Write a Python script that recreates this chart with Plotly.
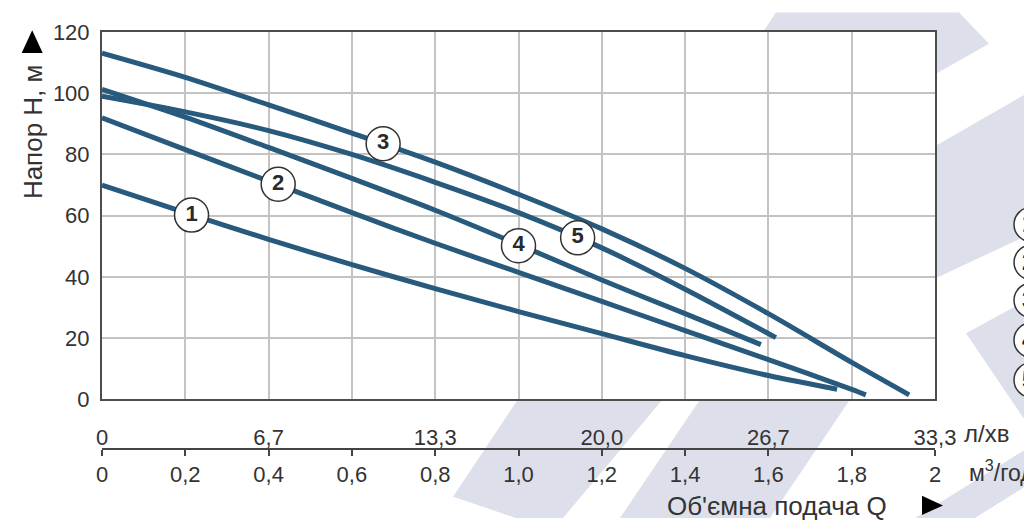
import plotly.graph_objects as go

# ---------------- data ----------------
q1 = [0, 0.2, 0.4, 0.6, 0.8, 1.0, 1.2, 1.4, 1.6, 1.765]
h1 = [70, 61, 52.3, 44, 36.2, 28.7, 21.5, 14.3, 7.8, 3.3]

q2 = [0, 0.2, 0.4, 0.6, 0.8, 1.0, 1.2, 1.4, 1.6, 1.8, 1.834]
h2 = [92, 81.6, 71.3, 61, 51, 41.5, 32, 22.5, 13, 3.3, 1.5]

q3 = [0, 0.2, 0.4, 0.6, 0.8, 1.0, 1.2, 1.4, 1.6, 1.8, 1.938]
h3 = [113.1, 105.2, 96.2, 87, 77.5, 67, 55.7, 42.8, 28, 12.1, 1.5]

q4 = [0, 0.2, 0.4, 0.6, 0.8, 1.0, 1.2, 1.4, 1.582]
h4 = [101.3, 92.2, 82.3, 72.2, 61.8, 50.6, 39, 28, 17.9]

q5 = [0, 0.2, 0.4, 0.6, 0.8, 1.0, 1.2, 1.4, 1.618]
h5 = [99, 93.9, 87.8, 80, 70.9, 61, 49.5, 36, 20.2]

curve_q = [q1, q2, q3, q4, q5]
curve_h = [h1, h2, h3, h4, h5]

label_text = ["1", "2", "3", "4", "5"]
label_q = [0.215, 0.423, 0.675, 1.0, 1.142]
label_h = [60.2, 70.3, 83.5, 50.2, 52.8]

y_ticks = [0, 20, 40, 60, 80, 100, 120]
x_ticks = [0, 0.2, 0.4, 0.6, 0.8, 1.0, 1.2, 1.4, 1.6, 1.8, 2.0]
x_ticktext = ["0", "0,2", "0,4", "0,6", "0,8", "1,0", "1,2", "1,4", "1,6", "1,8", "2"]
lpm_vals = [0, 0.4, 0.8, 1.2, 1.6, 2.0]
lpm_text = ["0", "6,7", "13,3", "20,0", "26,7", "33,3"]

# ---------------- layout geometry (page pixels) ----------------
OFF = 8                      # page body margin
W, H = 1032 - OFF, 520 - OFF
PL, PR, PT, PB = 102, 935, 20, 398
AXB = 449  # secondary axis line
FONT = "Arial, Liberation Sans, Helvetica, sans-serif"
TXT = "#333333"
LINE = "#285a7d"
DECOR = "#dde0ea"

def px(x):
    return (x - PL) / (PR - PL)

def py(y):
    return (AXB - y) / (AXB - PT)

ydom0 = py(PB)

def poly(pts):
    d = "M " + " L ".join(f"{px(x):.5f},{py(y):.5f}" for x, y in pts) + " Z"
    return dict(type="path", xref="paper", yref="paper", path=d,
                fillcolor=DECOR, line=dict(width=0), layer="below")

decor_polys = [
    [(776, 0), (959, 0), (989, 32), (936, 63), (563, 520), (516, 520), (453, 498)],
    [(1032, 80), (1032, 227), (880, 300), (880, 170)],
    [(966, 330), (1032, 293), (1032, 430)],
    [(700, 398), (850, 398), (770, 520), (620, 520)],
    [(1040, 440), (1040, 478), (975, 520), (915, 520)],
]

shapes = [poly(p) for p in decor_polys]
shapes.append(dict(type="rect", xref="paper", yref="paper", x0=0, x1=1, y0=ydom0, y1=1,
                   fillcolor="white", line=dict(width=0), layer="below"))
shapes.append(dict(type="path", xref="paper", yref="paper",
                   path=f"M {px(21.7)},{py(41.7)} L {px(42.7)},{py(41.7)} L {px(32.2)},{py(18.3)} Z",
                   fillcolor="black", line=dict(width=0)))
shapes.append(dict(type="path", xref="paper", yref="paper",
                   path=f"M {px(922)},{py(497)} L {px(922)},{py(517)} L {px(943)},{py(507)} Z",
                   fillcolor="black", line=dict(width=0)))

leg_y = [218, 257, 296, 337, 378]
annotations = []
for t, yy in zip(label_text, leg_y):
    shapes.append(dict(type="circle", xref="paper", yref="paper",
                       x0=px(1014), x1=px(1050), y0=py(yy + 18), y1=py(yy - 18),
                       fillcolor="white", line=dict(color="#333333", width=1.5)))
    annotations.append(dict(xref="paper", yref="paper", x=px(1020), y=py(yy), text=t,
                            showarrow=False, xanchor="left", yanchor="middle",
                            font=dict(family=FONT, size=23, color="#222222", weight="bold")))

fig = go.Figure()
for q, h in zip(curve_q, curve_h):
    fig.add_trace(go.Scatter(x=q, y=h, mode="lines",
                             line=dict(color=LINE, width=5, shape="spline", smoothing=0.8),
                             showlegend=False, hoverinfo="skip"))

fig.add_trace(go.Scatter(x=label_q, y=label_h, mode="markers+text", text=label_text,
                         textposition="middle center",
                         textfont=dict(family=FONT, size=22, color="#2a2a2a", weight="bold"),
                         marker=dict(symbol="circle", size=34, color="white",
                                     line=dict(color="#333333", width=1.5)),
                         showlegend=False, hoverinfo="skip"))

fig.add_trace(go.Scatter(x=[0, 2], y=[None, None], xaxis="x2", yaxis="y", showlegend=False, hoverinfo="skip"))
fig.add_trace(go.Scatter(x=[0, 2], y=[None, None], xaxis="x3", yaxis="y", showlegend=False, hoverinfo="skip"))

annotations += [
    dict(xref="paper", yref="paper", x=px(33), y=py(123), text="Напор Н, м", textangle=-90,
         showarrow=False, xanchor="center", yanchor="middle", font=dict(family=FONT, size=26, color=TXT)),
    dict(xref="paper", yref="paper", x=px(777), y=py(508), text="Об'ємна подача Q",
         showarrow=False, xanchor="center", yanchor="middle", font=dict(family=FONT, size=26, color=TXT)),
    dict(xref="paper", yref="paper", x=px(962), y=py(433), text="л/хв",
         showarrow=False, xanchor="left", yanchor="middle", font=dict(family=FONT, size=24, color=TXT)),
    dict(xref="paper", yref="paper", x=px(967), y=py(472), text="м<sup>3</sup>/год",
         showarrow=False, xanchor="left", yanchor="middle", font=dict(family=FONT, size=23, color=TXT)),
]

fig.update_layout(
    width=W, height=H,
    margin=dict(l=PL - OFF, r=1032 - PR, t=PT - OFF, b=520 - AXB, pad=0),
    paper_bgcolor="white", plot_bgcolor="white",
    font=dict(family=FONT, size=22, color=TXT),
    shapes=shapes, annotations=annotations,
    xaxis=dict(range=[0, 2], tickvals=x_ticks, showticklabels=False, showgrid=True,
               gridcolor="#c3c3c3", gridwidth=1.5, showline=True, mirror=True,
               linecolor="#4d4d4d", linewidth=2, zeroline=False, ticks="", anchor="y"),
    yaxis=dict(range=[0, 120], domain=[ydom0, 1], tickvals=y_ticks, showgrid=True,
               gridcolor="#c3c3c3", gridwidth=1.5, showline=True, mirror=True,
               linecolor="#4d4d4d", linewidth=2, zeroline=False,
               ticks="outside", ticklen=6, tickcolor="rgba(0,0,0,0)",
               tickfont=dict(family=FONT, size=22, color=TXT)),
    xaxis2=dict(range=[0, 2], overlaying="x", anchor="free", position=0, side="bottom",
                tickvals=x_ticks, ticktext=x_ticktext, ticks="outside", ticklen=6, tickwidth=1.5,
                tickcolor="#444444", showline=True, linecolor="#444444", linewidth=1.5,
                showgrid=False, zeroline=False, tickfont=dict(family=FONT, size=22, color=TXT)),
    xaxis3=dict(range=[0, 2], overlaying="x", anchor="free", position=0, side="top",
                tickvals=lpm_vals, ticktext=lpm_text, ticks="", showline=False,
                showgrid=False, zeroline=False, tickfont=dict(family=FONT, size=22, color=TXT)),
)

fig.write_html("out.html")
